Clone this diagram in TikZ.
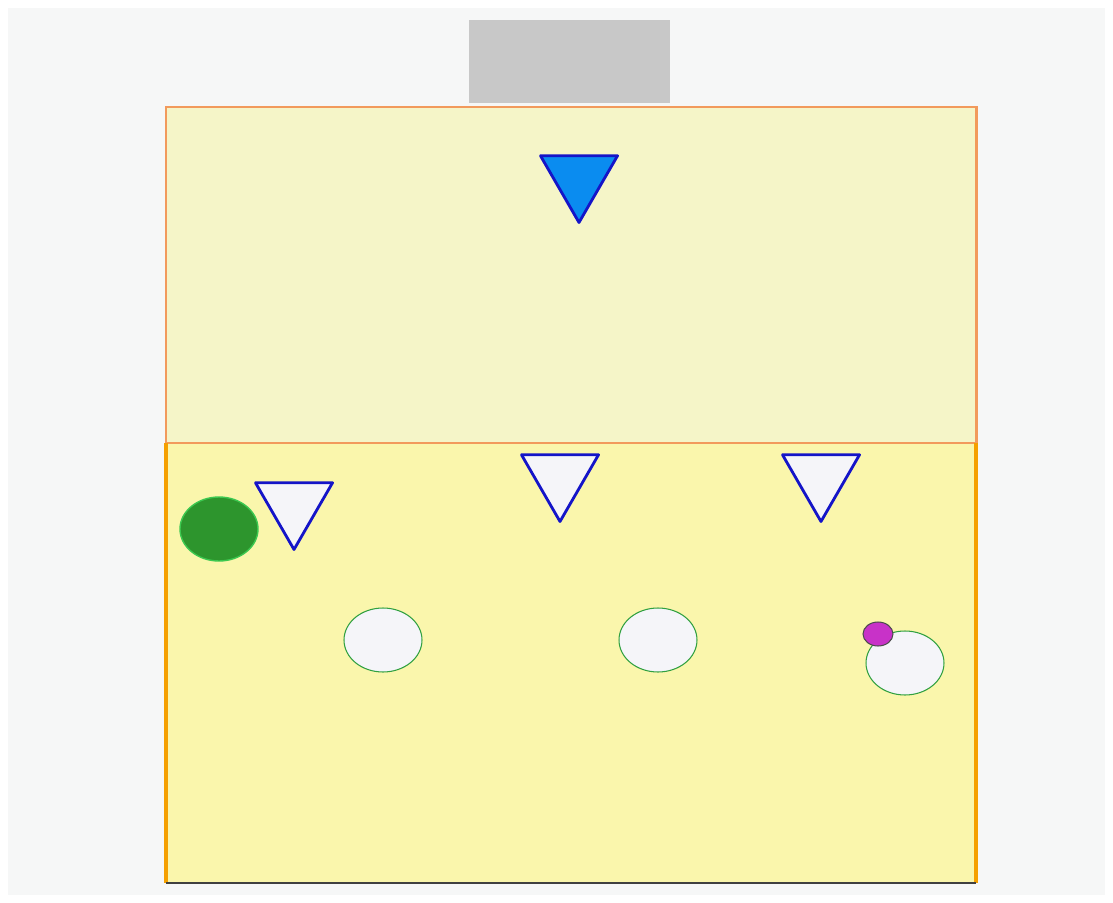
\documentclass[tikz,border=0pt]{standalone}
\definecolor{PageGray}{HTML}{F6F7F7}
\definecolor{GoalGray}{HTML}{C8C8C8}
\definecolor{FieldPale}{HTML}{F5F5C8}
\definecolor{FieldYellow}{HTML}{FAF6AC}
\definecolor{LineSalmon}{HTML}{F29A5C}
\definecolor{LineOrange}{HTML}{F5A000}
\definecolor{KeeperBlue}{HTML}{0A8CF0}
\definecolor{MarkBlue}{HTML}{1414C8}
\definecolor{TeamGreen}{HTML}{2D952D}
\definecolor{RingGreen}{HTML}{3CC850}
\definecolor{BallMagenta}{HTML}{C832C8}
\definecolor{ChipWhite}{HTML}{F5F5F9}
\usepackage{tikz}
\usetikzlibrary{shapes.geometric}

\begin{document}
\begin{tikzpicture}[x=0.02cm, y=-0.02cm,
  keeper/.style={regular polygon, regular polygon sides=3, shape border rotate=180, minimum size=1.78cm, inner sep=0pt, fill=KeeperBlue, draw=MarkBlue, line width=1.6pt, line join=round},
  defender/.style={keeper, fill=ChipWhite},
  spot/.style={ellipse, minimum width=1.56cm, minimum height=1.28cm, inner sep=0pt, fill=ChipWhite, draw=RingGreen!80!black, line width=0.6pt},
  attacker/.style={spot, fill=TeamGreen, draw=RingGreen, line width=0.8pt},
  ball/.style={ellipse, minimum width=0.6cm, minimum height=0.48cm, inner sep=0pt, fill=BallMagenta, draw=black!70, line width=0.6pt},
]
  % page and goal
  \fill[white] (0,0) rectangle (1113,903);
  \fill[PageGray] (8,8) rectangle (1105,895);
  \fill[GoalGray] (469,20) rectangle (670,103);
  % two zones of the field
  \fill[FieldPale] (166,107) rectangle (976,443);
  \fill[FieldYellow] (166,443) rectangle (976,883);
  \draw[LineSalmon, line width=1.7pt] (166,443) -- (166,107) -- (976,107) -- (976,443);
  \draw[LineSalmon, line width=1.3pt] (166,443) -- (976,443);
  \draw[LineOrange, line width=2.2pt] (166,443) -- (166,883);
  \draw[LineOrange, line width=2.2pt] (976,443) -- (976,883);
  \draw[black!75, line width=1.2pt] (166,883) -- (976,883);
  % players
  \node[keeper] (gk) at (579,178) {};
  \foreach \name/\x/\y in {d1/294/505, d2/560/477, d3/821/477}
    \node[defender] (\name) at (\x,\y) {};
  \node[attacker] (a1) at (219,529) {};
  \foreach \name/\x/\y in {s1/383/640, s2/658/640, s3/905/663}
    \node[spot] (\name) at (\x,\y) {};
  \node[ball] (b) at (878,634) {};
\end{tikzpicture}
\end{document}
